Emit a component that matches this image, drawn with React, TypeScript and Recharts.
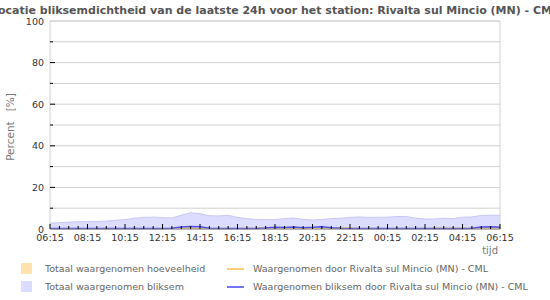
import React from 'react';
import { ComposedChart, Area, Line, XAxis, YAxis, CartesianGrid, ReferenceLine } from 'recharts';

const times = [
  '06:15','06:45','07:15','07:45','08:15','08:45','09:15','09:45','10:15','10:45',
  '11:15','11:45','12:15','12:45','13:15','13:45','14:15','14:45','15:15','15:45',
  '16:15','16:45','17:15','17:45','18:15','18:45','19:15','19:45','20:15','20:45',
  '21:15','21:45','22:15','22:45','23:15','23:45','00:15','00:45','01:15','01:45',
  '02:15','02:45','03:15','03:45','04:15','04:45','05:15','05:45','06:15',
];

const totaalBliksem = [
  2.8, 3.0, 3.3, 3.5, 3.6, 3.6, 3.8, 4.2, 4.5, 5.2,
  5.6, 5.7, 5.5, 5.3, 6.6, 7.8, 7.4, 6.4, 6.3, 6.6,
  5.6, 5.0, 4.6, 4.5, 4.5, 5.0, 5.3, 4.6, 4.3, 4.6,
  5.0, 5.2, 5.6, 5.8, 5.6, 5.6, 5.7, 6.0, 6.0, 5.2,
  4.8, 4.8, 5.2, 5.0, 5.7, 5.8, 6.5, 6.6, 6.6,
];

const totaalHoeveelheid = [
  0.2, 0.2, 0.2, 0.2, 0.2, 0.2, 0.2, 0.2, 0.2, 0.2,
  0.2, 0.2, 0.3, 0.5, 0.8, 0.9, 0.6, 0.5, 0.5, 0.5,
  0.5, 0.5, 0.6, 1.0, 0.8, 0.6, 0.6, 0.5, 0.5, 0.5,
  0.6, 0.8, 0.8, 0.5, 0.5, 0.5, 0.5, 0.5, 0.5, 0.5,
  0.5, 0.6, 0.6, 0.6, 0.6, 0.7, 1.0, 1.0, 1.0,
];

const stationHoeveelheid = [
  0.1, 0.1, 0.1, 0.1, 0.1, 0.1, 0.1, 0.1, 0.1, 0.1,
  0.1, 0.1, 0.2, 0.3, 0.4, 0.4, 0.3, 0.3, 0.3, 0.3,
  0.3, 0.3, 0.4, 0.6, 0.5, 0.4, 0.4, 0.3, 0.3, 0.3,
  0.4, 0.5, 0.5, 0.3, 0.3, 0.3, 0.3, 0.3, 0.3, 0.3,
  0.3, 0.4, 0.4, 0.4, 0.4, 0.4, 0.6, 0.6, 0.6,
];

const stationBliksem = [
  0.3, 0.3, 0.3, 0.3, 0.3, 0.3, 0.3, 0.3, 0.3, 0.3,
  0.3, 0.3, 0.3, 0.4, 1.0, 1.2, 1.1, 0.4, 0.3, 0.3,
  0.3, 0.3, 0.3, 0.5, 0.9, 0.7, 1.0, 0.6, 0.8, 1.1,
  0.6, 0.4, 0.3, 0.3, 0.3, 0.3, 0.3, 0.3, 0.3, 0.3,
  0.3, 0.3, 0.3, 0.3, 0.3, 0.4, 1.0, 1.1, 0.9,
];

const yTicks = [0, 10, 20, 30, 40, 50, 60, 70, 80, 90, 100];
const xTicks = times.map((_, i) => i);

const data = times.map((t, i) => ({
  i,
  time: t,
  totaalBliksem: totaalBliksem[i],
  totaalHoeveelheid: totaalHoeveelheid[i],
  stationHoeveelheid: stationHoeveelheid[i],
  stationBliksem: stationBliksem[i],
}));

const FONT = 'DejaVu Sans, sans-serif';
const X_MARGIN = 6;
const Y_MARGIN = 6;

const XTick = (props: any) => {
  const { x, y, payload, index } = props;
  const major = index % 4 === 0;
  const base = y - X_MARGIN;
  return (
    <g>
      <line x1={x} x2={x} y1={base} y2={base - (major ? 5 : 3)} stroke="#000" strokeWidth={1} />
      {major && (
        <text x={x} y={base + 12} textAnchor="middle" fontSize={9.5} fontFamily={FONT} fill="#333">
          {times[payload.value]}
        </text>
      )}
    </g>
  );
};

const YTick = (props: any) => {
  const { x, y, payload } = props;
  const major = payload.value % 20 === 0;
  const left = x + Y_MARGIN;
  return (
    <g>
      {payload.value !== 0 && payload.value !== 100 && (
        <line x1={left} x2={left + (major ? 5 : 3)} y1={y} y2={y} stroke="#000" strokeWidth={1} />
      )}
      {major && (
        <text x={left - 6} y={y + 3.5} textAnchor="end" fontSize={9.5} fontFamily={FONT} fill="#333">
          {payload.value}
        </text>
      )}
    </g>
  );
};

const legendItems = [
  { label: 'Totaal waargenomen hoeveelheid', color: '#ffe2ad', type: 'square' },
  { label: 'Waargenomen door Rivalta sul Mincio (MN) - CML', color: '#ffcc77', type: 'line' },
  { label: 'Totaal waargenomen bliksem', color: '#dcdcff', type: 'square' },
  { label: 'Waargenomen bliksem door Rivalta sul Mincio (MN) - CML', color: '#7474f2', type: 'line' },
];

const LegendBlock = () => (
  <div
    style={{
      position: 'absolute',
      left: 21,
      top: 263,
      display: 'grid',
      gridTemplateColumns: '206px 320px',
      rowGap: 7,
      fontFamily: FONT,
      fontSize: 9.5,
      color: '#666',
    }}
  >
    {legendItems.map((it) => (
      <div key={it.label} style={{ display: 'flex', alignItems: 'center', height: 11 }}>
        {it.type === 'square' ? (
          <span style={{ display: 'inline-block', width: 11, height: 11, background: it.color, marginRight: 13 }} />
        ) : (
          <span style={{ display: 'inline-block', width: 17, height: 2, background: it.color, marginRight: 9 }} />
        )}
        <span style={{ whiteSpace: 'nowrap' }}>{it.label}</span>
      </div>
    ))}
  </div>
);

export default function App() {
  return (
    <div style={{ position: 'absolute', left: 0, top: 0, width: 550, height: 300, background: '#fff', overflow: 'hidden' }}>
      <ComposedChart width={550} height={300} data={data} margin={{ top: 21, right: 50, bottom: 51, left: 0 }}>
        <text x={275} y={14} textAnchor="middle" fontSize={11} fontWeight="bold" fontFamily={FONT} fill="#555">
          Locatie bliksemdichtheid van de laatste 24h voor het station: Rivalta sul Mincio (MN) - CML
        </text>
        <CartesianGrid horizontal vertical={false} stroke="#d0d0d0" strokeWidth={1} />
        <XAxis
          dataKey="i"
          type="number"
          domain={[0, 48]}
          ticks={xTicks}
          interval={0}
          tickSize={0}
          tickMargin={X_MARGIN}
          tick={<XTick />}
          axisLine={{ stroke: '#888' }}
          height={20}
        />
        <YAxis
          type="number"
          domain={[0, 100]}
          ticks={yTicks}
          interval={0}
          tickSize={0}
          tickMargin={Y_MARGIN}
          tick={<YTick />}
          axisLine={{ stroke: '#d0d0d0' }}
          width={50}
        />
        <ReferenceLine x={48} stroke="#d0d0d0" strokeWidth={1} />
        <ReferenceLine y={100} stroke="#d0d0d0" strokeWidth={1} />
        <Area type="linear" dataKey="totaalBliksem" stroke="#c8c8f6" strokeWidth={1} fill="#dcdcff" fillOpacity={1} isAnimationActive={false} />
        <Area type="linear" dataKey="totaalHoeveelheid" stroke="none" fill="#f3d9b0" fillOpacity={1} isAnimationActive={false} />
        <Line type="linear" dataKey="stationHoeveelheid" stroke="#ffcc77" strokeWidth={1} dot={false} isAnimationActive={false} />
        <Line type="linear" dataKey="stationBliksem" stroke="#5050e8" strokeWidth={1.5} dot={false} isAnimationActive={false} />
        <text
          x={10}
          y={127}
          transform="rotate(-90 10 127)"
          textAnchor="middle"
          dominantBaseline="central"
          fontSize={10.5}
          fontFamily={FONT}
          fill="#777"
        >
          {'Percent\u00a0\u00a0\u00a0[%]'}
        </text>
        <text x={498} y={254} textAnchor="end" fontSize={10} fontFamily={FONT} fill="#777">tijd</text>
      </ComposedChart>
      <LegendBlock />
    </div>
  );
}
